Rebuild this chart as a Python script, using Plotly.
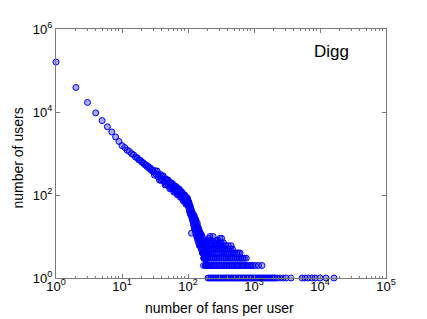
import plotly.graph_objects as go

# ---- data (fans per user -> number of users) ----
HEAD_FANS = [1, 2, 3, 4, 5, 6, 7, 8, 9, 10,
             11, 12, 13, 14, 15, 16, 17, 18, 19, 20,
             21, 22, 23, 24, 25, 26, 27, 28, 29, 30,
             31, 32, 33, 34, 35, 36, 37, 38, 39, 40,
             41, 42, 43, 44, 45, 46, 47, 48, 49, 50,
             51, 52, 53, 54, 55, 56, 57, 58, 59, 60,
             61, 62, 63, 64, 65, 66, 67, 68, 69, 70,
             71, 72, 73, 74, 75, 76, 77, 78, 79, 80,
             81, 82, 83, 84, 85, 86, 87, 88, 89, 90,
             91, 92, 93, 94, 95, 96, 97, 98, 99, 100]
HEAD_USERS = [160000, 39000, 17000, 9500, 6200, 4400, 3300, 2500, 1950, 1550,
              1390, 1200, 1120, 985, 930, 820, 790, 700, 690, 615,
              600, 540, 535, 480, 490, 430, 445, 390, 400, 360,
              303, 383, 314, 379, 274, 308, 228, 314, 226, 287,
              237, 289, 211, 238, 175, 246, 177, 227, 187, 229,
              168, 191, 142, 200, 144, 185, 154, 190, 140, 159,
              118, 167, 121, 156, 129, 160, 118, 134, 101, 143,
              103, 133, 111, 138, 102, 117, 87, 123, 89, 116,
              97, 114, 84, 98, 72, 102, 74, 95, 80, 98,
              70, 84, 60, 88, 62, 82, 66, 84, 58, 72]

TAIL_FANS = [101, 102, 103, 104, 105, 106, 107, 108, 109, 110,
             111, 112, 113, 114, 115, 116, 117, 118, 119, 120,
             121, 122, 123, 124, 125, 126, 127, 128, 129, 130,
             131, 132, 133, 134, 135, 136, 137, 138, 139, 140,
             141, 142, 143, 144, 145, 146, 147, 148, 149, 150,
             151, 152, 153, 154, 155, 156, 157, 158, 159, 160,
             161, 162, 163, 164, 165, 166, 167, 168, 169, 170,
             171, 172, 173, 174, 175, 176, 177, 178, 179, 180,
             181, 182, 183, 184, 185, 186, 187, 188, 189, 190,
             191, 192, 193, 194, 195, 196, 197, 198, 199, 200]
TAIL_USERS = [55, 70, 48, 64, 42, 56, 38, 54, 35, 48,
              32, 44, 12, 39, 28, 38, 25, 34, 23, 31,
              20, 29, 18, 32, 16, 26, 15, 27, 14, 23,
              12, 25, 13, 20, 10, 18, 11, 21, 9, 16,
              8, 17, 10, 14, 7, 15, 9, 12, 6, 13,
              8, 11, 6, 12, 7, 10, 6, 9, 5, 11,
              5, 8, 6, 10, 4, 7, 5, 8, 4, 6,
              4, 7, 3, 5, 3, 6, 4, 5, 3, 8,
              3, 4, 5, 3, 6, 2, 4, 3, 5, 2,
              4, 2, 3, 7, 2, 3, 2, 4, 2, 3]

# sparse tail, grouped by count
ONES_FANS = [201, 212, 225, 238, 252, 266, 281, 297, 314, 332, 351, 371, 392,
             414, 438, 463, 489, 517, 547, 578, 611, 646, 683, 722, 763, 807,
             853, 901, 953, 1007, 1065, 1125, 1190, 1258, 1330, 1405, 1486,
             1570, 1660, 1755, 1855, 1960, 2070, 2230, 2470, 2750, 3050, 3640,
             5350, 5930, 6570, 7560, 8400, 10000, 12300, 16300]
TWOS_FANS = [172, 183, 206, 218, 231, 245, 260, 276, 293, 311, 330, 350, 371,
             394, 418, 443, 470, 499, 529, 561, 595, 631, 670, 711, 754, 800,
             849, 900, 955, 1050, 1170, 1320]
THREES_FANS = [176, 188, 201, 214, 228, 243, 259, 276, 294, 313, 334, 356, 379,
               404, 431, 459, 489, 521, 555, 592, 631, 672, 716, 763]
FOURS_FANS = [183, 196, 209, 223, 238, 254, 271, 289, 308, 328, 350, 373, 397,
              423, 451, 481, 512, 546, 582, 615]
FIVES_FANS = [187, 205, 220, 236, 253, 271, 290, 311, 333, 357, 382, 409, 438,
              470]
OTHER_FANS = [192, 211, 232, 255, 280, 307, 337, 370, 406, 450,
              197, 218, 247, 262, 296, 318, 345,
              203, 226, 266, 285,
              207, 305, 323,
              215, 240]
OTHER_USERS = [6, 6, 6, 6, 6, 6, 6, 6, 6, 6,
               7, 7, 7, 7, 7, 7, 7,
               8, 8, 8, 8,
               9, 9, 9,
               10, 10]

X_TICKS = [1, 10, 100, 1000, 10000, 100000]
X_LABELS = ["10<sup>0</sup>", "10<sup>1</sup>", "10<sup>2</sup>",
            "10<sup>3</sup>", "10<sup>4</sup>", "10<sup>5</sup>"]
X_MINOR = [2, 3, 4, 5, 6, 7, 8, 9,
           20, 30, 40, 50, 60, 70, 80, 90,
           200, 300, 400, 500, 600, 700, 800, 900,
           2000, 3000, 4000, 5000, 6000, 7000, 8000, 9000,
           20000, 30000, 40000, 50000, 60000, 70000, 80000, 90000]
Y_TICKS = [1, 100, 10000, 1000000]
Y_LABELS = ["10<sup>0</sup>", "10<sup>2</sup>", "10<sup>4</sup>", "10<sup>6</sup>"]

# ---- assemble ----
fans = (HEAD_FANS + TAIL_FANS + ONES_FANS + TWOS_FANS + THREES_FANS
        + FOURS_FANS + FIVES_FANS + OTHER_FANS)
users = (HEAD_USERS + TAIL_USERS + [1] * len(ONES_FANS) + [2] * len(TWOS_FANS)
         + [3] * len(THREES_FANS) + [4] * len(FOURS_FANS)
         + [5] * len(FIVES_FANS) + OTHER_USERS)

FONT = "Liberation Sans, Arial, Helvetica, sans-serif"
AXIS_GRAY = "#7a7a7a"

fig = go.Figure()
fig.add_trace(go.Scatter(
    x=fans, y=users, mode="markers",
    marker=dict(symbol="circle", size=6, color="rgba(0,0,255,0.33)",
                line=dict(color="#0000ff", width=1)),
    showlegend=False, hoverinfo="skip", cliponaxis=False,
))

axis_common = dict(
    type="log", showgrid=False, zeroline=False,
    showline=True, linecolor=AXIS_GRAY, linewidth=1, mirror="allticks",
    ticks="inside", ticklen=4, tickcolor=AXIS_GRAY, tickwidth=1,
    tickfont=dict(family=FONT, size=13, color="black"),
)

# the page body has an 8px default margin, so the figure is offset by 8px
fig.update_layout(
    width=419, height=311,
    margin=dict(l=48, r=41, t=16, b=41, pad=0),
    paper_bgcolor="white", plot_bgcolor="white",
    font=dict(family=FONT, color="black"),
    xaxis=dict(range=[0, 5], tickmode="array", tickvals=X_TICKS,
               ticktext=X_LABELS, ticklabelstandoff=-4,
               minor=dict(tickmode="array", tickvals=X_MINOR, ticks="inside",
                          ticklen=2, tickcolor=AXIS_GRAY, showgrid=False),
               **axis_common),
    yaxis=dict(range=[0, 6], tickmode="array", tickvals=Y_TICKS,
               ticktext=Y_LABELS, **axis_common),
    annotations=[
        dict(text="number of fans per user", xref="paper", yref="paper",
             x=0.495, y=-0.122, xanchor="center", yanchor="middle",
             showarrow=False, font=dict(family=FONT, size=14, color="black")),
        dict(text="number of users", xref="paper", yref="paper",
             x=-0.115, y=0.48, xanchor="center", yanchor="middle",
             textangle=-90, showarrow=False,
             font=dict(family=FONT, size=14, color="black")),
        dict(text="Digg", xref="paper", yref="paper",
             x=0.836, y=0.909, xanchor="center", yanchor="middle",
             showarrow=False, font=dict(family=FONT, size=17, color="black")),
    ],
)

fig.write_html("out.html")
